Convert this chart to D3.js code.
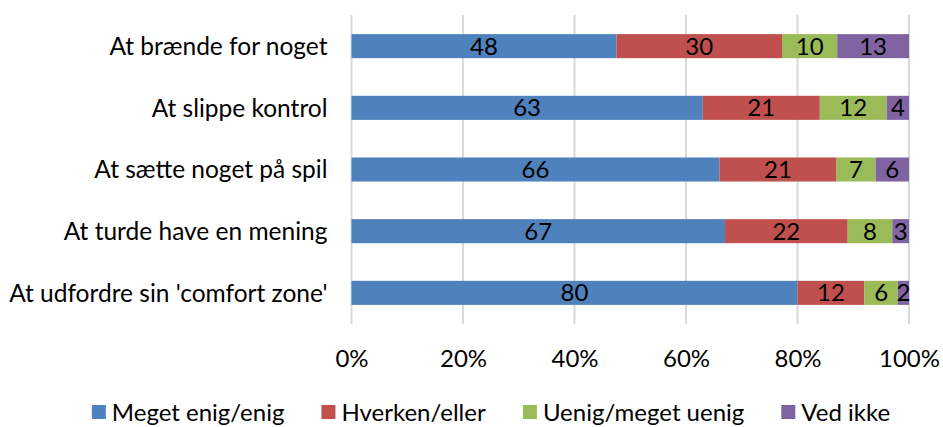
<!DOCTYPE html>
<meta charset="utf-8">
<script src="https://d3js.org/d3.v7.min.js"></script>
<style>
  body { margin: 0; background: #fff; }
  text { font-family: Lato, "Open Sans", sans-serif; fill: #000; }
</style>
<div id="chart"></div>
<script>
// chart values
var categories = ["At brænde for noget", "At slippe kontrol", "At sætte noget på spil",
                  "At turde have en mening", "At udfordre sin 'comfort zone'"];
var series = ["Meget enig/enig", "Hverken/eller", "Uenig/meget uenig", "Ved ikke"];
var colors = ["#4F81BD", "#C0504D", "#9BBB59", "#8064A2"];
var enig    = [48, 63, 66, 67, 80];
var hverken = [30, 21, 21, 22, 12];
var uenig   = [10, 12, 7, 8, 6];
var vedIkke = [13, 4, 6, 3, 2];
var ticks = [0, 20, 40, 60, 80, 100];

var W = 943, H = 427;
var margin = {top: 15, left: 351.5, right: 34, bottom: 103};
var width = W - margin.left - margin.right,
    height = H - margin.top - margin.bottom;

var svg = d3.select("#chart").append("svg")
    .attr("width", W).attr("height", H);
var g = svg.append("g")
    .attr("transform", "translate(" + margin.left + "," + margin.top + ")");

var x = d3.scaleLinear().domain([0, 100]).range([0, width]);
var y = d3.scaleBand().domain(categories).range([0, height]).paddingInner(0.61).paddingOuter(0.31);

// gridlines
g.selectAll(".grid").data(ticks).join("line")
    .attr("x1", d => x(d)).attr("x2", d => x(d))
    .attr("y1", 0).attr("y2", height)
    .attr("stroke", "#d9d9d9").attr("stroke-width", 2);

// stacked rows, normalized to 100%
var rows = categories.map(function(c, i) {
  var vals = [enig[i], hverken[i], uenig[i], vedIkke[i]];
  var total = d3.sum(vals), cum = 0;
  return vals.map(function(v, k) {
    var s = {cat: c, k: k, v: v, x0: cum / total * 100, x1: (cum + v) / total * 100};
    cum += v;
    return s;
  });
});
var segs = rows.flat();

g.selectAll("rect.seg").data(segs).join("rect")
    .attr("class", "seg")
    .attr("x", d => x(d.x0))
    .attr("width", d => x(d.x1) - x(d.x0))
    .attr("y", d => y(d.cat))
    .attr("height", y.bandwidth())
    .attr("fill", d => colors[d.k]);

g.selectAll("text.val").data(segs).join("text")
    .attr("class", "val")
    .attr("x", d => x((d.x0 + d.x1) / 2))
    .attr("y", d => y(d.cat) + y.bandwidth() / 2)
    .attr("dy", "0.36em")
    .attr("text-anchor", "middle")
    .style("font-size", "24px")
    .text(d => d.v);

// category labels
g.selectAll("text.cat").data(categories).join("text")
    .attr("class", "cat")
    .attr("x", -24)
    .attr("y", d => y(d) + y.bandwidth() / 2)
    .attr("dy", "0.36em")
    .attr("text-anchor", "end")
    .style("font-size", "24.5px")
    .text(d => d);

// x axis
var xAxis = g.append("g")
    .attr("transform", "translate(0," + height + ")")
    .call(d3.axisBottom(x).tickValues(ticks).tickFormat(d => d + "%").tickSize(0).tickPadding(26));
xAxis.select(".domain").remove();
xAxis.selectAll("text").style("font-size", "24px").style("font-family", "Lato, sans-serif").attr("fill", "#000");

// legend
var leg = svg.append("g");
var items = leg.selectAll("g").data(series).join("g");
items.append("rect").attr("width", 14).attr("height", 14).attr("y", -7)
    .attr("fill", (d, i) => colors[i]);
items.append("text").attr("x", 20).attr("dy", "0.36em")
    .style("font-size", "24px").text(d => d);
var pos = 0, offs = [];
items.each(function() {
  offs.push(pos);
  pos += this.getBBox().width + 37;
});
pos -= 37;
var start = 491 - pos / 2;
items.attr("transform", (d, i) => "translate(" + (start + offs[i]) + ",412)");
</script>
